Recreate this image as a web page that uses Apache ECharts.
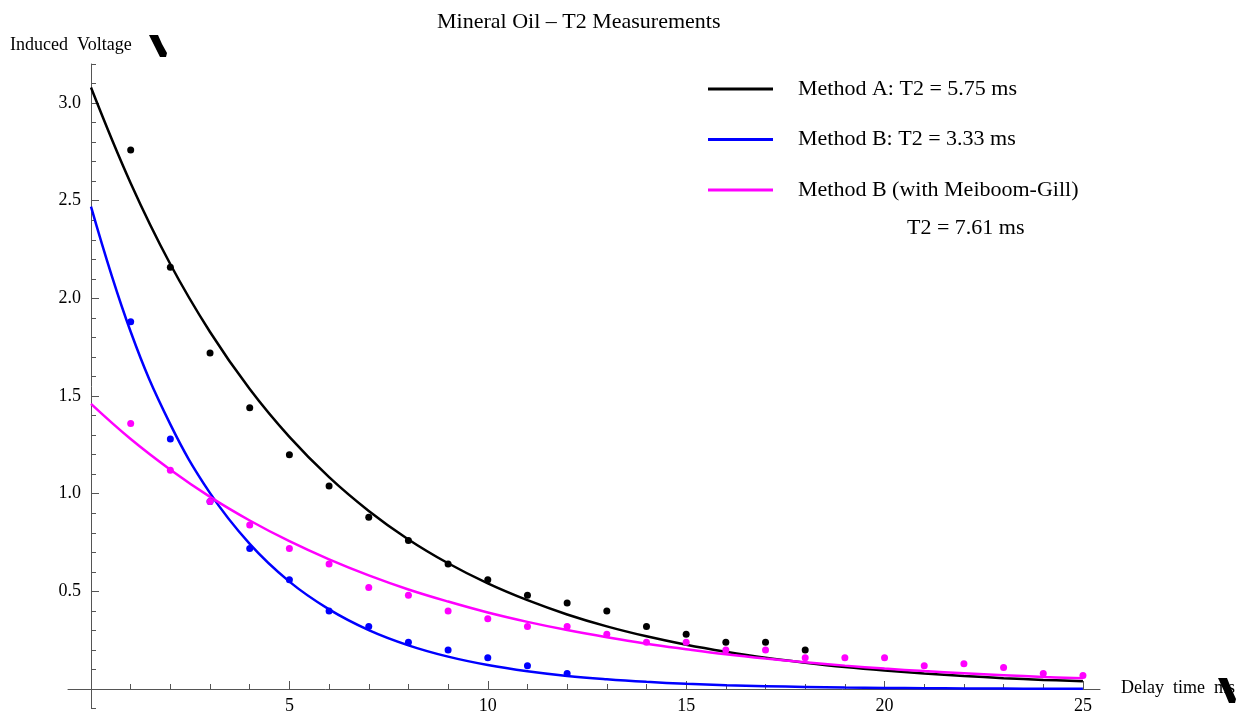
<!DOCTYPE html>
<html>
<head>
<meta charset="utf-8">
<script src="https://cdn.jsdelivr.net/npm/echarts@6/dist/echarts.min.js"></script>
<style>
html, body { margin: 0; padding: 0; background: #fff; }
#chart { width: 1244px; height: 717px; }
</style>
</head>
<body>
<div id="chart"></div>
<script>
// fitted curves, read at whole milliseconds
var fitTimes = [0, 1, 2, 3, 4, 5, 6, 7, 8, 9, 10, 11, 12, 13, 14, 15, 16, 17, 18, 19, 20, 21, 22, 23, 24, 25];
var fitA = [3.08, 2.59, 2.175, 1.828, 1.536, 1.291, 1.085, 0.912, 0.766, 0.644, 0.541, 0.455, 0.382, 0.321, 0.27, 0.227, 0.191, 0.16, 0.135, 0.113, 0.095, 0.08, 0.067, 0.056, 0.047, 0.04];
var fitB = [2.47, 1.829, 1.355, 1.003, 0.743, 0.55, 0.408, 0.302, 0.224, 0.166, 0.123, 0.091, 0.067, 0.05, 0.037, 0.027, 0.02, 0.015, 0.011, 0.008, 0.006, 0.0045, 0.0033, 0.0025, 0.0018, 0.0014];
var fitMG = [1.46, 1.28, 1.123, 0.984, 0.863, 0.757, 0.664, 0.582, 0.51, 0.448, 0.392, 0.344, 0.302, 0.265, 0.232, 0.204, 0.178, 0.156, 0.137, 0.12, 0.105, 0.092, 0.081, 0.071, 0.062, 0.055];

// measured points
var timesA = [1, 2, 3, 4, 5, 6, 7, 8, 9, 10, 11, 12, 13, 14, 15, 16, 17, 18];
var pointsA = [2.76, 2.16, 1.72, 1.44, 1.2, 1.04, 0.88, 0.76, 0.64, 0.56, 0.48, 0.44, 0.4, 0.32, 0.28, 0.24, 0.24, 0.2];
var timesB = [1, 2, 3, 4, 5, 6, 7, 8, 9, 10, 11, 12];
var pointsB = [1.88, 1.28, 0.96, 0.72, 0.56, 0.4, 0.32, 0.24, 0.2, 0.16, 0.12, 0.08];
var timesMG = [1, 2, 3, 4, 5, 6, 7, 8, 9, 10, 11, 12, 13, 14, 15, 16, 17, 18, 19, 20, 21, 22, 23, 24, 25];
var pointsMG = [1.36, 1.12, 0.96, 0.84, 0.72, 0.64, 0.52, 0.48, 0.4, 0.36, 0.32, 0.32, 0.28, 0.24, 0.24, 0.2, 0.2, 0.16, 0.16, 0.16, 0.12, 0.13, 0.11, 0.08, 0.07];

var names = ['Method A: T2 = 5.75 ms', 'Method B: T2 = 3.33 ms', 'Method B (with Meiboom-Gill)'];
var extraLegendLine = 'T2 = 7.61 ms';
var colors = ['#000000', '#0000ff', '#ff00ff'];

var serif = "'Liberation Serif', 'Times New Roman', serif";

function pairs(xs, ys) {
    return xs.map(function (x, i) { return [x, ys[i]]; });
}

function fitSeries(i, ys) {
    return {
        name: names[i],
        type: 'line',
        xAxisIndex: 0,
        yAxisIndex: 0,
        data: pairs(fitTimes, ys),
        smooth: 0.4,
        showSymbol: false,
        silent: true,
        itemStyle: { color: colors[i] },
        lineStyle: { color: colors[i], width: 2.5 },
        z: 2
    };
}

function dotSeries(i, xs, ys) {
    return {
        name: 'pts' + i,
        type: 'scatter',
        xAxisIndex: 0,
        yAxisIndex: 0,
        data: pairs(xs, ys),
        symbolSize: 7,
        silent: true,
        itemStyle: { color: colors[i], opacity: 1 },
        z: 3
    };
}

var chart = echarts.init(document.getElementById('chart'));

var option = {
    animation: false,
    backgroundColor: '#fff',
    title: {
        text: 'Mineral Oil \u2013 T2 Measurements',
        left: 432,
        top: 6,
        textStyle: { fontFamily: serif, fontSize: 22, fontWeight: 'normal', color: '#000' }
    },
    legend: {
        orient: 'vertical',
        left: 703,
        top: 73,
        icon: 'rect',
        itemWidth: 65,
        itemHeight: 3,
        itemGap: 28.5,
        selectedMode: false,
        data: names,
        textStyle: { fontFamily: serif, fontSize: 22, color: '#000', lineHeight: 22, padding: [0, 0, 0, 20] }
    },
    grid: [
        // data grid: x -0.58..25.43, y -0.1..3.2
        { left: 68, top: 64, width: 1032, height: 644.6 },
        // minor x ticks and y labels: x 0..25, y 0..3
        { left: 91, top: 103, width: 992, height: 586 },
        // major x ticks and labels
        { left: 91, top: 103, width: 992, height: 586 }
    ],
    xAxis: [
        {
            gridIndex: 0, type: 'value', min: -0.58, max: 25.43,
            axisLine: { onZero: true, lineStyle: { color: '#555', width: 1 } },
            axisTick: { show: false }, axisLabel: { show: false }, splitLine: { show: false }
        },
        {
            gridIndex: 1, type: 'value', min: 0, max: 25, interval: 1,
            axisLine: { show: false },
            axisTick: { inside: true, length: 5, lineStyle: { color: '#555' } },
            axisLabel: { show: false }, splitLine: { show: false }
        },
        {
            gridIndex: 2, type: 'value', min: 0, max: 25, interval: 5,
            axisLine: { show: false },
            axisTick: { inside: true, length: 8, lineStyle: { color: '#555' } },
            axisLabel: {
                margin: 8, fontFamily: serif, fontSize: 18, color: '#000',
                formatter: function (v) { return v === 0 ? '' : String(v); }
            },
            splitLine: { show: false }
        }
    ],
    yAxis: [
        {
            gridIndex: 0, type: 'value', min: -0.1, max: 3.2, interval: 0.1,
            axisLine: { onZero: true, lineStyle: { color: '#555', width: 1 } },
            axisTick: { inside: true, length: 5, lineStyle: { color: '#555' } },
            axisLabel: { show: false }, splitLine: { show: false }
        },
        {
            gridIndex: 1, type: 'value', min: 0, max: 3, interval: 0.5,
            axisLine: { show: false },
            axisTick: { inside: true, length: 8, lineStyle: { color: '#555' } },
            axisLabel: {
                margin: 10, fontFamily: serif, fontSize: 18, color: '#000',
                formatter: function (v) { return v === 0 ? '' : v.toFixed(1); }
            },
            splitLine: { show: false }
        },
        { gridIndex: 2, type: 'value', min: 0, max: 3, show: false }
    ],
    graphic: [
        {
            type: 'text', left: 10, top: 36,
            style: { text: 'Induced  Voltage', fontFamily: serif, fontSize: 18, fill: '#000' }
        },
        {
            type: 'polygon',
            shape: { points: [[149, 35], [158, 35], [162, 44], [167, 53], [166, 57], [160, 57], [155, 47]] },
            style: { fill: '#000' }
        },
        {
            type: 'text', left: 1121, top: 679,
            style: { text: 'Delay  time  ms', fontFamily: serif, fontSize: 18, fill: '#000' }
        },
        {
            type: 'polygon',
            shape: { points: [[1218, 678], [1227, 678], [1231, 688], [1236, 699], [1235, 703], [1229, 703], [1224, 691]] },
            style: { fill: '#000' }
        },
        {
            type: 'text', left: 907, top: 217,
            style: { text: extraLegendLine, fontFamily: serif, fontSize: 22, fill: '#000' }
        }
    ],
    series: [
        fitSeries(0, fitA),
        fitSeries(1, fitB),
        fitSeries(2, fitMG),
        dotSeries(0, timesA, pointsA),
        dotSeries(1, timesB, pointsB),
        dotSeries(2, timesMG, pointsMG)
    ]
};

chart.setOption(option);
</script>
</body>
</html>
